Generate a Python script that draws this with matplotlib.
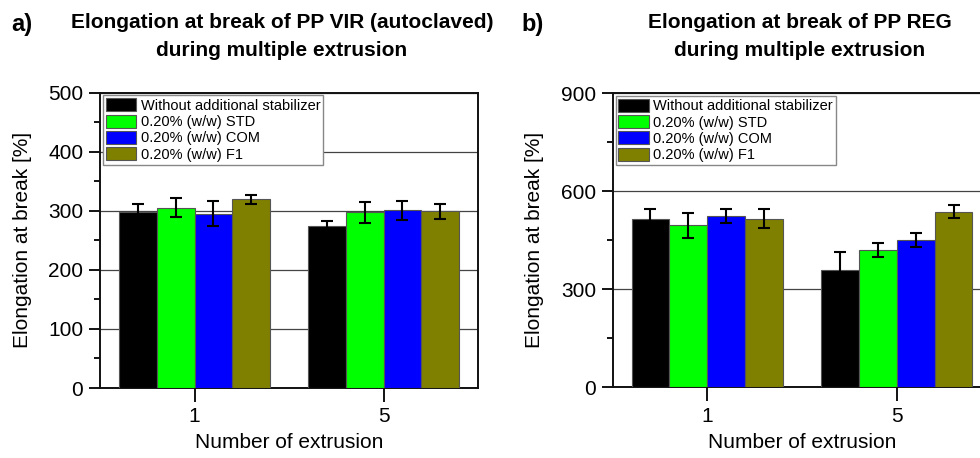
import matplotlib
matplotlib.use("Agg")
import matplotlib.pyplot as plt
from matplotlib.ticker import MultipleLocator
import numpy as np

plt.rcParams['font.family'] = ['Liberation Sans', 'DejaVu Sans']

groups = ["1", "5"]
series = ["Without additional stabilizer", "0.20% (w/w) STD", "0.20% (w/w) COM", "0.20% (w/w) F1"]
colors = ["#000000", "#00FF00", "#0000FF", "#808000"]

vir_vals = [[297, 274], [305, 297], [295, 301], [319, 299]]
vir_err = [[15, 8], [16, 18], [21, 16], [7, 13]]

reg_vals = [[514, 360], [496, 420], [524, 450], [516, 537]]
reg_err = [[32, 54], [38, 21], [22, 21], [30, 19]]

W, H = 980, 458
fig = plt.figure(figsize=(W / 100, H / 100), dpi=100)

def px_axes(x0, y_top, x1, y_bot):
    return fig.add_axes([x0 / W, 1 - y_bot / H, (x1 - x0) / W, (y_bot - y_top) / H])

ax1 = px_axes(100, 92.5, 478, 388)
ax2 = px_axes(612.6, 93, 991.4, 387.3)

def draw(ax, vals, errs, ymax, major, minor):
    x = np.arange(1, len(groups) + 1)
    bw = 0.2
    for i, (v, e, c, lab) in enumerate(zip(vals, errs, colors, series)):
        ax.bar(x + (i - 1.5) * bw, v, width=bw, color=c, edgecolor="#555555",
               linewidth=0.8, label=lab, zorder=3,
               yerr=e, error_kw=dict(ecolor="black", elinewidth=1.5, capsize=4,
                                     capthick=1.5, zorder=4))
    ax.set_xlim(0.5, 2.5)
    ax.set_ylim(0, ymax)
    ax.set_xticks(x)
    ax.set_xticklabels(groups)
    ax.yaxis.set_major_locator(MultipleLocator(major))
    ax.yaxis.set_minor_locator(MultipleLocator(minor))
    ax.grid(axis="y", which="major", color="#444444", linewidth=0.9, zorder=0)
    ax.set_axisbelow(True)
    ax.tick_params(axis="y", which="major", direction="out", length=8, width=1.3,
                   labelsize=15, pad=4)
    ax.tick_params(axis="y", which="minor", direction="out", length=4, width=1.3)
    ax.tick_params(axis="x", which="major", direction="out", length=10, width=1.3,
                   labelsize=15, pad=4)
    for s in ax.spines.values():
        s.set_linewidth(1.4)
        s.set_color("#111111")
    ax.set_xlabel("Number of extrusion", fontsize=15, labelpad=5)
    ax.set_ylabel("Elongation at break [%]", fontsize=15, labelpad=12)
    leg = ax.legend(loc="upper left", fontsize=10.5, frameon=True, fancybox=False,
                    edgecolor="#888888", framealpha=1, handlelength=2.1,
                    handleheight=1.0, labelspacing=0.12, handletextpad=0.3,
                    borderpad=0.2, borderaxespad=0.2)
    leg.get_frame().set_linewidth(1.0)

draw(ax1, vir_vals, vir_err, 500, 100, 50)
draw(ax2, reg_vals, reg_err, 900, 300, 150)

fig.text(22 / W, 1 - 24 / H, "a)", fontsize=17, fontweight="bold", ha="center", va="center")
fig.text(282 / W, 1 - 22 / H, "Elongation at break of PP VIR (autoclaved)", fontsize=15,
         fontweight="bold", ha="center", va="center")
fig.text(282 / W, 1 - 51 / H, "during multiple extrusion", fontsize=15,
         fontweight="bold", ha="center", va="center")

fig.text(533 / W, 1 - 24 / H, "b)", fontsize=17, fontweight="bold", ha="center", va="center")
fig.text(800 / W, 1 - 22 / H, "Elongation at break of PP REG", fontsize=15,
         fontweight="bold", ha="center", va="center")
fig.text(800 / W, 1 - 51 / H, "during multiple extrusion", fontsize=15,
         fontweight="bold", ha="center", va="center")

fig.savefig("out.png", dpi=100)
